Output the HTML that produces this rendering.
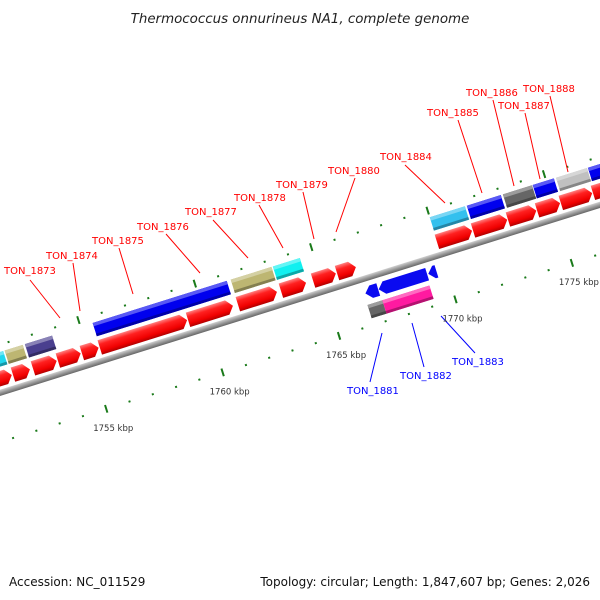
<!DOCTYPE html>
<html><head><meta charset="utf-8"><style>
body{margin:0;background:#fff}
svg{display:block;font-family:"DejaVu Sans","Liberation Sans",sans-serif}
</style></head><body>
<svg id="c" width="600" height="600" viewBox="0 0 600 600">
<defs>
<linearGradient id="gRed" x1="0" y1="0" x2="0" y2="1"><stop offset="0" stop-color="#ff8080"/><stop offset="0.3" stop-color="#ff2020"/><stop offset="0.75" stop-color="#f00000"/><stop offset="1" stop-color="#b00000"/></linearGradient>
<linearGradient id="gBack" x1="0" y1="0" x2="0" y2="1"><stop offset="0" stop-color="#d0d0d0"/><stop offset="0.5" stop-color="#999"/><stop offset="1" stop-color="#666"/></linearGradient>
</defs>
<text x="300" y="23" text-anchor="middle" font-size="13.4" font-style="italic" fill="#222">Thermococcus onnurineus NA1, complete genome</text>
<g id="strip" transform="translate(325,291) rotate(-17.4)"></g>
<g id="labels"></g>
<text x="9" y="586" font-size="12" fill="#111">Accession: NC_011529</text>
<text x="590" y="586" text-anchor="end" font-size="12" fill="#111">Topology: circular; Length: 1,847,607 bp; Genes: 2,026</text>
</svg>
<script>
const fwdCdsStart=[1750.6,1751.77,1752.63,1753.7,1754.73,1755.5,1759.29,1761.43,1763.28,1764.66,1765.69,1769.98,1771.53,1773.03,1774.28,1775.3,1776.68];
const fwdCdsEnd=[1751.72,1752.5,1753.65,1754.68,1755.45,1759.25,1761.22,1763.11,1764.36,1765.64,1766.5,1771.49,1773.0,1774.25,1775.27,1776.65,1778.2];
const fwdFeatStart=[1750.9,1751.72,1752.59,1755.5,1761.43,1763.24,1769.98,1771.57,1773.12,1774.4,1775.4,1776.77];
const fwdFeatEnd=[1751.7,1752.54,1753.8,1761.3,1763.22,1764.44,1771.53,1773.07,1774.41,1775.35,1776.77,1778.2];
const fwdFeatColor=["#22d8ee","#bdb672","#4a3f8f","#0000ee","#bdb672","#11f0f0","#33c0ee","#0000ee","#666666","#0000ee","#c0c0c0","#0000ee"];
const revCdsStart=[1766.55,1767.12,1769.25];
const revCdsEnd=[1767.1,1769.2,1769.6];
const revFeatStart=[1766.49,1767.13];
const revFeatEnd=[1767.13,1769.15];
const revFeatColor=["#666666","#ff1aa0"];
const tickKbp=[];for(let k=1748;k<=1780;k++)tickKbp.push(k);
const labelNames=["TON_1873","TON_1874","TON_1875","TON_1876","TON_1877","TON_1878","TON_1879","TON_1880","TON_1884","TON_1885","TON_1886","TON_1887","TON_1888","TON_1881","TON_1882","TON_1883"];

const NS="http://www.w3.org/2000/svg";
const K0=1765, PX=24.4;
const U=k=>(k-K0)*PX;
const strip=document.getElementById('strip');
function mk(t,a,p){const e=document.createElementNS(NS,t);for(const k in a)e.setAttribute(k,a[k]);(p||strip).appendChild(e);return e;}
function shade(hex,f){const n=parseInt(hex.slice(1),16);let r=n>>16,g=(n>>8)&255,b=n&255;
 const m=c=>Math.max(0,Math.min(255,Math.round(f>0?c+(255-c)*f:c*(1+f))));return `rgb(${m(r)},${m(g)},${m(b)})`;}

let bb=mk('rect',{x:U(1740),y:-3,width:U(1790)-U(1740),height:6,fill:'url(#gBack)'});



tickKbp.forEach(k=>{
 const major=k%5===0;
 [47,-46].forEach((v,i)=>{
  const h=major?4:1;
  const t=mk('line',{x1:U(k),x2:U(k),y1:v-h,y2:v+h,stroke:'#1a7a1a','stroke-width':2});
  
  
 });
});

function arrow(u1,u2,vt,vb,dir,fill){
 const h=Math.min(6,u2-u1), vm=(vt+vb)/2;
 let pts;
 if(dir>0)pts=[[u1,vt],[u2-h,vt],[u2,vm],[u2-h,vb],[u1,vb]];
 else pts=[[u2,vt],[u1+h,vt],[u1,vm],[u1+h,vb],[u2,vb]];
 return mk('polygon',{points:pts.map(p=>p.join(',')).join(' '),fill:fill});
}
function box(u1,u2,vt,vb,col){
 const g=mk('g',{});
 mk('rect',{x:u1,y:vt,width:u2-u1,height:vb-vt,fill:col},g);
 mk('rect',{x:u1,y:vt,width:u2-u1,height:(vb-vt)*0.25,fill:shade(col,0.35)},g);
 mk('rect',{x:u1,y:vb-(vb-vt)*0.2,width:u2-u1,height:(vb-vt)*0.2,fill:shade(col,-0.3)},g);
 return g;
}
fwdCdsStart.forEach((s,i)=>{
 const a=arrow(U(s),U(fwdCdsEnd[i]),-21,-6,1,'url(#gRed)');
 
 
});
fwdFeatStart.forEach((s,i)=>{
 const b=box(U(s)+0.5,U(fwdFeatEnd[i])-0.5,-39,-25,fwdFeatColor[i]);
 
 
});
revCdsStart.forEach((s,i)=>{
 const a=arrow(U(s),U(revCdsEnd[i]),8,21,-1,'#0a0af0');
 
 
});
revFeatStart.forEach((s,i)=>{
 const b=box(U(s),U(revFeatEnd[i]),26,40,revFeatColor[i]);
 
 
});

const svg=document.getElementById('c');
const th=-17.4*Math.PI/180, c=Math.cos(th), s=Math.sin(th);
tickKbp.filter(k=>k%5===0).forEach(k=>{
 const u=U(k), v=47;
 const x=325+u*c-v*s, y=291+u*s+v*c;
 if(x<0||x>600)return;
 const t=mk('text',{x:x-13,y:y+22,'font-size':8.5,fill:'#333'},svg);
 t.textContent=k+' kbp';
 
 
});

const labG=document.getElementById('labels');
const lab=[[4,274,30,280,60,318],[46,259,73,263,80,311],[92,244,119,248,133,294],[137,230,166,234,200,273],[185,215,213,220,248,258],[234,201,259,205,283,248],[276,188,303,192,314,239],[328,174,355,178,336,232],[380,160,405,165,445,203],[427,116,458,120,482,193],[466,96,493,100,514,186],[498,109,525,113,540,179],[523,92,550,96,568,172],[347,394,370,382,382,333],[400,379,424,367,412,323],[452,365,475,353,441,316]];
labelNames.forEach((n,i)=>{
 const L=lab[i], col=i>=13?'#0000ff':'#ff0000';
 const l=mk('line',{x1:L[2],y1:L[3],x2:L[4],y2:L[5],stroke:col,'stroke-width':1},labG);
 
 
 const t=mk('text',{x:L[0],y:L[1],'font-size':10,fill:col},labG);
 t.textContent=n;
 
 
});
</script>
</body></html>
